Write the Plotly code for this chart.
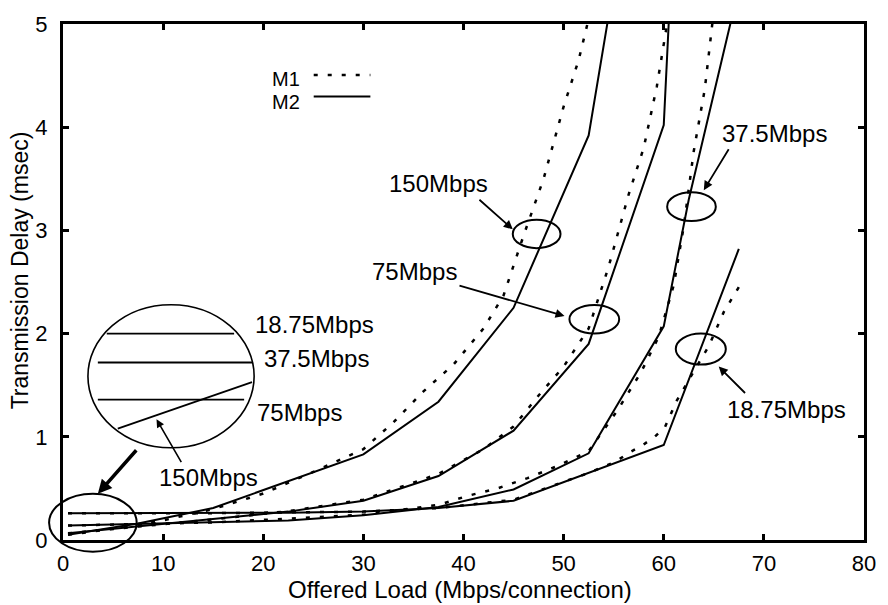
import plotly.graph_objects as go

# ---------------- data ----------------
# M2 (solid) curves
x_150_m2 = [0.5, 7.5, 15, 22.5, 30, 37.5, 45, 52.5, 56.25]
y_150_m2 = [0.05, 0.16, 0.31, 0.57, 0.83, 1.34, 2.25, 3.92, 6.1]
x_75_m2 = [0.5, 7.5, 15, 22.5, 30, 37.5, 45, 52.5, 60, 62.5]
y_75_m2 = [0.065, 0.13, 0.2, 0.275, 0.38, 0.62, 1.06, 1.9, 4.02, 9.0]
x_37_m2 = [0.5, 7.5, 15, 22.5, 30, 37.5, 45, 52.5, 60, 62.5, 67.5]
y_37_m2 = [0.14, 0.155, 0.17, 0.19, 0.24, 0.32, 0.49, 0.84, 2.07, 3.3, 5.35]
x_18_m2 = [0.5, 7.5, 15, 22.5, 30, 37.5, 45, 52.5, 60, 67.5]
y_18_m2 = [0.26, 0.26, 0.26, 0.265, 0.275, 0.31, 0.38, 0.65, 0.92, 2.82]

# M1 (dotted) curves
x_150_m1 = [0.5, 5, 10, 15, 20, 25, 30, 33, 36, 39, 42, 44, 46, 48, 50, 51.5, 52.5]
y_150_m1 = [0.05, 0.11, 0.19, 0.3, 0.45, 0.66, 0.88, 1.14, 1.44, 1.7, 2.05, 2.37, 2.95, 3.5, 4.2, 4.65, 5.05]
x_75_m1 = [0.5, 7.5, 15, 22.5, 30, 37.5, 42, 45, 47.5, 50, 52.5, 54.5, 56.5, 58, 59.3, 60.5]
y_75_m1 = [0.065, 0.13, 0.2, 0.28, 0.39, 0.64, 0.88, 1.1, 1.4, 1.68, 2.05, 2.65, 3.35, 3.8, 4.39, 5.1]
x_37_m1 = [0.5, 15, 30, 37.5, 40.5, 43.4, 46.4, 49.2, 52.5, 55.4, 57.7, 59.5, 61, 62, 63, 64.1, 64.8, 65.2]
y_37_m1 = [0.14, 0.17, 0.245, 0.34, 0.43, 0.50, 0.60, 0.71, 0.86, 1.26, 1.62, 1.97, 2.47, 3.04, 3.77, 4.37, 4.96, 5.3]
x_18_m1 = [0.5, 15, 30, 37.5, 45, 52.5, 55.2, 56.6, 57.9, 59.1, 60.1, 60.8, 61.3, 63.1, 64.5, 66, 67.5]
y_18_m1 = [0.26, 0.26, 0.275, 0.31, 0.39, 0.65, 0.76, 0.85, 0.92, 1.0, 1.09, 1.24, 1.35, 1.65, 1.88, 2.21, 2.45]

x_ticks = [0, 10, 20, 30, 40, 50, 60, 70, 80]
y_ticks = [0, 1, 2, 3, 4, 5]
x_title = "Offered Load (Mbps/connection)"
y_title = "Transmission Delay (msec)"
legend_names = ["M1", "M2"]

XR = [0, 80]
YR = [0, 5]
FONT = "Liberation Sans, Arial, Helvetica, sans-serif"
DOT = "4px,10px"

fig = go.Figure()
for xs, ys in [(x_150_m1, y_150_m1), (x_75_m1, y_75_m1), (x_37_m1, y_37_m1), (x_18_m1, y_18_m1)]:
    fig.add_trace(go.Scatter(x=xs, y=ys, mode="lines", showlegend=False,
                             line=dict(color="black", width=2.5, dash=DOT)))
for xs, ys in [(x_150_m2, y_150_m2), (x_75_m2, y_75_m2), (x_37_m2, y_37_m2), (x_18_m2, y_18_m2)]:
    fig.add_trace(go.Scatter(x=xs, y=ys, mode="lines", showlegend=False,
                             line=dict(color="black", width=2)))

shapes = []
def ellipse(x0, x1, y0, y1, w=2, ref="data"):
    if ref == "data":
        shapes.append(dict(type="circle", xref="x", yref="y", x0=x0, x1=x1, y0=y0, y1=y1,
                           line=dict(color="black", width=w)))
    else:
        shapes.append(dict(type="circle", xref="paper", yref="paper",
                           x0=(x0 - XR[0]) / (XR[1] - XR[0]), x1=(x1 - XR[0]) / (XR[1] - XR[0]),
                           y0=(y0 - YR[0]) / (YR[1] - YR[0]), y1=(y1 - YR[0]) / (YR[1] - YR[0]),
                           line=dict(color="black", width=w)))

def seg(x0, y0, x1, y1, w=1.6, dash="solid"):
    shapes.append(dict(type="line", xref="x", yref="y", x0=x0, y0=y0, x1=x1, y1=y1,
                       line=dict(color="black", width=w, dash=dash)))

# ellipses marking the curves
ellipse(44.92, 49.69, 2.828, 3.104)
ellipse(50.58, 55.55, 2.001, 2.277)
ellipse(60.34, 65.2, 3.09, 3.37)
ellipse(61.2, 66.2, 1.70, 2.0)
# small ellipse at the origin (extends past axes)
ellipse(-1.39, 7.36, -0.114, 0.447, ref="paper")
# inset magnified circle
ellipse(2.49, 19.09, 0.894, 2.28, w=1.6)
seg(4.37, 2.0, 17.09, 2.0)
seg(3.48, 1.72, 18.88, 1.72, w=1.8)
seg(3.48, 1.36, 18.09, 1.36)
seg(5.47, 1.08, 18.88, 1.53, w=1.8)
# legend samples
seg(25.04, 4.506, 30.7, 4.506, w=2.5, dash=DOT)
seg(25.04, 4.297, 30.7, 4.297, w=2)

annotations = []
def text(x, y, s, size=24, xanchor="left"):
    annotations.append(dict(x=x, y=y, xref="x", yref="y", text=s, showarrow=False,
                            xanchor=xanchor, yanchor="middle",
                            font=dict(family=FONT, size=size, color="black")))

def arrow(tx, ty, hx, hy, w=1.8, size=1.0):
    annotations.append(dict(x=hx, y=hy, ax=tx, ay=ty, xref="x", yref="y", axref="x", ayref="y",
                            text="", showarrow=True, arrowhead=2, arrowsize=size,
                            arrowwidth=w, arrowcolor="black", standoff=0, startstandoff=0))

text(32.4, 3.45, "150Mbps")
text(30.7, 2.60, "75Mbps")
text(65.6, 3.94, "37.5Mbps")
text(66.1, 1.26, "18.75Mbps")
text(19.0, 2.09, "18.75Mbps")
text(19.9, 1.76, "37.5Mbps")
text(19.2, 1.24, "75Mbps")
text(9.4, 0.61, "150Mbps")
text(23.9, 4.468, legend_names[0], size=20, xanchor="right")
text(23.9, 4.249, legend_names[1], size=20, xanchor="right")

arrow(41.44, 3.31, 44.92, 3.01)
arrow(39.45, 2.47, 50.09, 2.17)
arrow(66.58, 3.80, 64.0, 3.39)
arrow(68.27, 1.41, 65.49, 1.68)
arrow(11.9, 0.74, 9.34, 1.17, w=1.6)
arrow(7.45, 0.884, 3.48, 0.447, w=3.5, size=0.8)

# axis titles
annotations.append(dict(x=0.4957, y=-0.096, xref="paper", yref="paper", text=x_title,
                        showarrow=False, xanchor="center", yanchor="middle",
                        font=dict(family=FONT, size=24, color="black")))
annotations.append(dict(x=-0.0534, y=0.523, xref="paper", yref="paper", text=y_title,
                        showarrow=False, xanchor="center", yanchor="middle", textangle=-90,
                        font=dict(family=FONT, size=23, color="black")))

axis_common = dict(showgrid=False, zeroline=False, showline=True, linecolor="black",
                   linewidth=3, mirror="ticks", ticks="inside", ticklen=6, tickwidth=2.5,
                   tickcolor="black", tickfont=dict(family=FONT, size=22, color="black"))
fig.update_layout(
    width=888, height=605,
    margin=dict(l=63, r=20, t=14, b=65),
    paper_bgcolor="white", plot_bgcolor="white",
    xaxis=dict(range=XR, tickvals=x_ticks, ticklabelstandoff=2, **axis_common),
    yaxis=dict(range=YR, tickvals=y_ticks, ticklabelstandoff=8, **axis_common),
    shapes=shapes, annotations=annotations, showlegend=False,
)
fig.write_html("out.html")
